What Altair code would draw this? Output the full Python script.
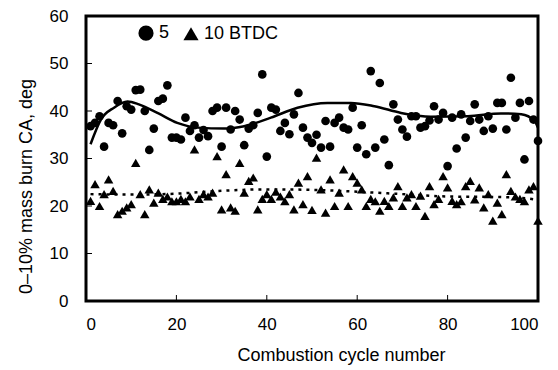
import altair as alt
import pandas as pd

cycles = list(range(1, 101))

series_names = ["5", "10 BTDC"]

burn_5 = [
    36.8, 37.5, 38.9, 32.5, 37.5, 37.0, 42.1, 35.3, 41.0, 40.3,
    44.4, 44.5, 40.0, 31.8, 36.3, 42.1, 42.6, 45.4, 34.4, 34.4,
    34.0, 38.6, 35.8, 37.0, 34.4, 36.0, 34.7, 40.0, 40.7, 32.5,
    40.7, 36.1, 40.0, 38.2, 32.8, 36.3, 37.0, 39.6, 47.7, 30.4,
    40.7, 40.3, 35.8, 37.5, 35.1, 39.3, 43.8, 36.5, 34.4, 33.3,
    35.0, 32.3, 37.9, 32.5, 37.5, 38.6, 36.5, 36.1, 40.7, 32.3,
    37.0, 30.9, 48.4, 32.3, 45.9, 34.0, 28.6, 41.4, 38.2, 36.1,
    34.6, 38.9, 38.9, 36.5, 36.8, 38.0, 41.0, 38.2, 39.6, 28.4,
    38.6, 32.1, 39.3, 34.4, 37.9, 41.4, 38.2, 35.8, 38.9, 36.3,
    41.7, 41.7, 36.1, 47.0, 38.6, 41.7, 29.8, 42.1, 38.2, 33.7,
]

burn_10 = [
    21.1, 24.6, 20.0, 22.5, 25.6, 23.2, 18.3, 19.0, 19.7, 20.4,
    29.1, 22.5, 18.3, 23.5, 20.7, 22.8, 21.5, 22.0, 21.0, 21.0,
    21.5, 21.0, 22.0, 31.9, 21.5, 22.5, 22.0, 22.8, 30.5, 19.3,
    26.7, 19.7, 19.0, 29.1, 22.8, 25.3, 26.0, 19.3, 21.5, 22.5,
    21.5, 23.0, 22.0, 21.0, 22.5, 19.3, 24.9, 20.4, 26.3, 19.2,
    30.2, 23.5, 18.6, 25.6, 20.0, 22.8, 27.7, 20.0, 26.3, 24.9,
    23.5, 20.0, 21.5, 21.0, 19.0, 21.1, 20.0, 21.8, 24.2, 20.0,
    21.8, 22.5, 20.0, 22.2, 17.9, 24.2, 20.4, 21.5, 26.3, 23.9,
    21.1, 20.4, 21.0, 24.2, 25.3, 21.4, 23.9, 19.7, 22.5, 16.9,
    20.7, 18.3, 26.7, 23.2, 22.0, 21.5, 21.0, 23.5, 24.2, 16.9,
]

# trend lines
trend5_x = [1, 3.3, 6.2, 9.2, 11.7, 15.8, 20.2, 24.7, 30.6, 35, 40.9, 46.8,
            53.4, 58.6, 63.8, 69.7, 76.3, 84.5, 91.8, 96.3, 99.2, 100]
trend5_y = [33.0, 38.2, 40.7, 42.0, 41.4, 39.6, 37.5, 36.5, 36.3, 36.8, 38.6, 40.7,
            41.7, 41.7, 41.0, 39.6, 38.8, 38.9, 39.5, 39.3, 37.9, 36.5]
trend10_x = [1, 10, 20, 30, 40, 50, 60, 70, 80, 90, 95, 100]
trend10_y = [22.5, 22.4, 22.6, 23.2, 23.5, 23.4, 23.0, 22.5, 22.0, 21.9, 21.8, 21.3]

x_ticks = [0, 20, 40, 60, 80, 100]
y_ticks = [0, 10, 20, 30, 40, 50, 60]

df5 = pd.DataFrame({"cycle": cycles, "value": burn_5, "series": series_names[0]})
df10 = pd.DataFrame({"cycle": cycles, "value": burn_10, "series": series_names[1]})
t5 = pd.DataFrame({"cycle": trend5_x, "value": trend5_y})
t10 = pd.DataFrame({"cycle": trend10_x, "value": trend10_y})

FONT = "Liberation Sans"
W, H = 452, 285

xscale = alt.Scale(domain=[0, 100], nice=False)
yscale = alt.Scale(domain=[0, 60], nice=False)

xaxis = alt.Axis(values=x_ticks, title="Combustion cycle number", grid=False,
                 ticks=False, domain=False, labelFontSize=17, labelPadding=15,
                 titleFontSize=18, titleFontWeight="normal", titlePadding=14,
                 titleX=255, titleAnchor="middle",
                 labelColor="black", titleColor="black", labelFont=FONT, titleFont=FONT)
yaxis = alt.Axis(values=y_ticks, title="0–10% mass burn CA, deg", grid=False,
                 ticks=False, domain=False, labelFontSize=17, labelPadding=18,
                 titleFontSize=18, titleFontWeight="normal", titlePadding=14,
                 titleY=170, titleAnchor="middle",
                 labelColor="black", titleColor="black", labelFont=FONT, titleFont=FONT)

shape_scale = alt.Scale(domain=series_names, range=["circle", "triangle-up"])
legend = alt.Legend(title=None, orient="none", legendX=51, legendY=8,
                    direction="horizontal", labelFontSize=18,
                    labelFont=FONT, labelColor="black",
                    symbolSize=230, symbolFillColor="black", symbolType="circle",
                    symbolStrokeColor="black", columnPadding=10, labelOffset=4)

circles = alt.Chart(df5).mark_point(filled=True, color="black", opacity=1, size=75).encode(
    x=alt.X("cycle:Q", scale=xscale, axis=xaxis),
    y=alt.Y("value:Q", scale=yscale, axis=yaxis),
    shape=alt.Shape("series:N", scale=shape_scale, legend=legend),
)
triangles = alt.Chart(df10).mark_point(filled=True, color="black", opacity=1, size=90).encode(
    x=alt.X("cycle:Q", scale=xscale),
    y=alt.Y("value:Q", scale=yscale),
    shape=alt.Shape("series:N", scale=shape_scale, legend=legend),
)

trend5 = alt.Chart(t5).mark_line(color="black", strokeWidth=2.5, interpolate="monotone").encode(
    x=alt.X("cycle:Q", scale=xscale), y=alt.Y("value:Q", scale=yscale))
trend10 = alt.Chart(t10).mark_line(color="black", strokeWidth=2.5, strokeDash=[3, 5],
                                   interpolate="monotone").encode(
    x=alt.X("cycle:Q", scale=xscale), y=alt.Y("value:Q", scale=yscale))

ytick_df = pd.DataFrame({"v": y_ticks[1:-1]})
xtick_df = pd.DataFrame({"v": x_ticks[1:-1]})

yticks = alt.Chart(ytick_df).mark_rule(color="black", strokeWidth=1).encode(
    y=alt.Y("v:Q", scale=yscale), x=alt.value(0), x2=alt.value(6))
xticks = alt.Chart(xtick_df).mark_rule(color="black", strokeWidth=1).encode(
    x=alt.X("v:Q", scale=xscale), y=alt.value(H), y2=alt.value(H - 6))

chart = alt.layer(yticks, xticks, circles, triangles, trend5, trend10).properties(
    width=W, height=H,
    autosize=alt.AutoSizeParams(type="none"),
    padding={"left": 86, "top": 16, "right": 20, "bottom": 69},
    background="white",
).configure_view(stroke="black", strokeWidth=3).configure_axis(
    labelFont=FONT, titleFont=FONT)

chart.save("out.html", embed_options={"renderer": "svg", "actions": False})
